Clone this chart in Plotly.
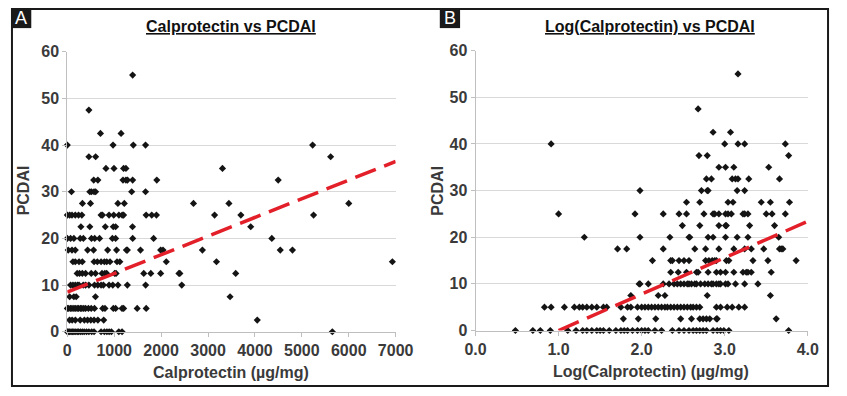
import plotly.graph_objects as go

W, H = 847, 396

# ---------------- Panel A: Calprotectin vs PCDAI ----------------
levels_a = [55, 47.5, 42.5, 40, 37.5, 35, 32.5, 30, 27.5, 25, 22.5, 20, 17.5, 15, 12.5, 10, 7.5, 5, 2.5, 0]
calp_rows = [
    [1393],
    [460],
    [707, 1146],
    [0, 975, 1407, 1668, 5230],
    [460, 604, 5614],
    [824, 995, 1200, 1250, 3308],
    [563, 652, 1187, 1250, 1283, 1393, 1908, 4496],
    [89, 480, 515, 570, 604, 1372, 1668],
    [323, 494, 1078, 1215, 2690, 3445, 6000],
    [0, 50, 100, 170, 240, 310, 720, 750, 890, 990, 1100, 1170, 1200, 1680, 1800, 1900, 3140, 3700, 5250],
    [290, 480, 810, 980, 1030, 1390, 3910],
    [0, 70, 140, 275, 343, 515, 584, 687, 961, 1030, 1394, 1840, 4360],
    [20, 100, 170, 433, 560, 860, 1050, 1260, 1280, 1560, 1990, 2040, 2880, 4540, 4800],
    [120, 170, 250, 320, 570, 640, 720, 790, 840, 910, 1060, 1120, 2110, 3180, 6930],
    [210, 260, 320, 390, 510, 600, 740, 800, 840, 1010, 1040, 1630, 1780, 1990, 2380, 2400, 3590],
    [70, 120, 170, 220, 250, 340, 390, 460, 580, 650, 720, 770, 890, 970, 1080, 1280, 1670, 2440],
    [50, 140, 190, 600, 3470],
    [0, 30, 70, 100, 140, 170, 210, 240, 280, 310, 350, 390, 450, 510, 580, 755, 803, 981, 1030, 1167, 1201, 1490, 1682],
    [48, 103, 172, 275, 364, 432, 501, 570, 652, 776, 4050],
    [0, 20, 50, 80, 110, 140, 170, 210, 240, 280, 320, 360, 410, 460, 520, 570, 720, 790, 844, 892, 940, 1098, 1167, 5650],
]
trend_a_x = [0, 7000]
trend_a_y = [8.5, 36.5]

# ---------------- Panel B: Log(Calprotectin) vs PCDAI ----------------
levels_b = [55, 47.5, 42.5, 40, 37.5, 35, 32.5, 30, 27.5, 25, 22.5, 20, 17.5, 15, 12.5, 10, 7.5, 5, 2.5, 0]
logcalp_rows = [
    [3.16],
    [2.68],
    [2.86, 3.07],
    [0.91, 3.00, 3.16, 3.24, 3.73],
    [2.69, 2.79, 3.77],
    [2.93, 3.01, 3.11, 3.53],
    [2.78, 2.84, 3.09, 3.13, 3.16, 3.29, 3.66],
    [1.98, 2.72, 2.79, 2.80, 3.15, 3.24],
    [2.54, 2.70, 3.04, 3.10, 3.44, 3.55, 3.78],
    [1.00, 1.92, 2.26, 2.45, 2.54, 2.75, 2.86, 2.88, 2.93, 3.01, 3.04, 3.08, 3.22, 3.24, 3.28, 3.50, 3.57, 3.73],
    [2.49, 2.70, 2.93, 3.01, 3.02, 3.30, 3.60],
    [1.31, 1.98, 2.34, 2.57, 2.58, 2.80, 2.86, 3.01, 3.15, 3.28, 3.65],
    [1.71, 1.82, 2.26, 2.64, 2.77, 2.93, 3.11, 3.24, 3.32, 3.47, 3.66, 3.68, 3.70],
    [2.13, 2.35, 2.37, 2.45, 2.51, 2.57, 2.77, 2.81, 2.85, 2.88, 2.90, 3.02, 3.05, 3.34, 3.52, 3.86],
    [2.35, 2.44, 2.54, 2.66, 2.68, 2.80, 2.90, 2.95, 3.01, 3.11, 3.22, 3.26, 3.28, 3.32, 3.56],
    [1.97, 1.98, 2.08, 2.26, 2.33, 2.39, 2.43, 2.47, 2.51, 2.55, 2.57, 2.60, 2.64, 2.66, 2.71, 2.76,
     2.80, 2.84, 2.86, 2.90, 2.93, 2.95, 3.01, 3.04, 3.13, 3.24, 3.40],
    [1.87, 2.20, 2.28, 2.79, 3.55],
    [0.83, 0.91, 1.07, 1.19, 1.25, 1.29, 1.34, 1.40, 1.46, 1.54, 1.58, 1.75, 1.83, 1.87, 1.95, 2.00,
     2.04, 2.08, 2.12, 2.16, 2.20, 2.24, 2.28, 2.31, 2.35, 2.39, 2.43, 2.47, 2.51, 2.55, 2.59, 2.62,
     2.66, 2.70, 2.90, 2.95, 3.03, 3.09, 3.17, 3.24],
    [1.78, 1.96, 2.17, 2.47, 2.60, 2.70, 2.74, 2.78, 2.82, 2.90, 2.91, 3.62],
    [0.48, 0.69, 0.78, 0.90, 1.11, 1.21, 1.29, 1.34, 1.40, 1.46, 1.50, 1.54, 1.61, 1.69, 1.75, 1.79,
     1.83, 1.89, 1.95, 2.00, 2.04, 2.08, 2.16, 2.24, 2.37, 2.45, 2.51, 2.57, 2.62, 2.66, 2.70, 2.74,
     2.78, 2.86, 2.91, 2.95, 2.99, 3.05, 3.77],
]
trend_b_x = [1.0, 4.0]
trend_b_y = [0.0, 23.4]

titles = ["Calprotectin vs PCDAI", "Log(Calprotectin) vs PCDAI"]
xtitles = ["Calprotectin (µg/mg)", "Log(Calprotectin) (µg/mg)"]
ytitle = "PCDAI"
panel_labels = ["A", "B"]


def flatten(levels, rows):
    xs, ys = [], []
    for lv, row in zip(levels, rows):
        for v in row:
            xs.append(v)
            ys.append(lv)
    return xs, ys


ax_x, ax_y = flatten(levels_a, calp_rows)
bx_x, bx_y = flatten(levels_b, logcalp_rows)

FONT = "Liberation Sans, Arial, sans-serif"
TICKC = "#3a3a3a"
GRID = "#d9d9d9"
AXL = "#bfbfbf"
RED = "#e3202a"
DASH = "22px,9px"

fig = go.Figure()
mk = dict(symbol="diamond", size=5.5, color="#141414", line=dict(width=0))
fig.add_trace(go.Scatter(x=ax_x, y=ax_y, mode="markers", marker=mk, xaxis="x", yaxis="y",
                         cliponaxis=False, showlegend=False, hoverinfo="skip"))
fig.add_trace(go.Scatter(x=trend_a_x, y=trend_a_y, mode="lines", xaxis="x", yaxis="y",
                         line=dict(color=RED, width=3.5, dash=DASH), showlegend=False, hoverinfo="skip"))
fig.add_trace(go.Scatter(x=bx_x, y=bx_y, mode="markers", marker=mk, xaxis="x2", yaxis="y2",
                         cliponaxis=False, showlegend=False, hoverinfo="skip"))
fig.add_trace(go.Scatter(x=trend_b_x, y=trend_b_y, mode="lines", xaxis="x2", yaxis="y2",
                         line=dict(color=RED, width=3.5, dash=DASH), showlegend=False, hoverinfo="skip"))

tickfont = dict(family=FONT, size=16, color=TICKC, weight="bold")
common_x = dict(showgrid=False, zeroline=False, showline=True, linecolor=AXL, linewidth=1,
                ticks="outside", ticklen=4, tickcolor=AXL, tickfont=tickfont)
common_y = dict(showgrid=True, gridcolor=GRID, gridwidth=1, zeroline=False, showline=True,
                linecolor=AXL, linewidth=1, ticks="outside", ticklen=4, tickcolor=AXL,
                tickfont=tickfont, range=[0, 60], dtick=10)

fig.update_layout(
    autosize=True,
    margin=dict(l=0, r=0, t=0, b=0),
    paper_bgcolor="white", plot_bgcolor="white",
    hovermode=False,
    xaxis=dict(domain=[58.3 / W, 398.3 / W], range=[0, 7000], dtick=1000, anchor="y", **common_x),
    yaxis=dict(domain=[1 - 338.3 / H, 1 - 45.7 / H], anchor="x", **common_y),
    xaxis2=dict(domain=[481 / W, 825 / W], range=[0, 4], dtick=1, tickformat=".1f", anchor="y2", **common_x),
    yaxis2=dict(domain=[1 - 337 / H, 1 - 44.5 / H], anchor="x2", **common_y),
)

ann = []
shapes = []
# titles
for cx, t in zip([228, 662], titles):
    ann.append(dict(x=cx / W, y=1 - 19 / H, xref="paper", yref="paper", text=t, showarrow=False,
                    xanchor="center", yanchor="middle",
                    font=dict(family=FONT, size=16, color="#111111", weight="bold", lineposition="under")))
# x titles
for cx, cy, t in zip([228, 663], [381, 380], xtitles):
    ann.append(dict(x=cx / W, y=1 - cy / H, xref="paper", yref="paper", text=t, showarrow=False,
                    xanchor="center", yanchor="middle",
                    font=dict(family=FONT, size=16, color=TICKC, weight="bold")))
# y titles
for cx in [13, 442]:
    ann.append(dict(x=cx / W, y=1 - 191 / H, xref="paper", yref="paper", text=ytitle, showarrow=False,
                    xanchor="center", yanchor="middle", textangle=-90,
                    font=dict(family=FONT, size=16, color=TICKC, weight="bold")))
# panel labels
for (x0, x1), lab in zip([(0, 21), (444, 465)], panel_labels):
    shapes.append(dict(type="rect", xref="paper", yref="paper", x0=x0 / W, x1=x1 / W,
                       y0=1 - 21 / H, y1=1, fillcolor="#1a1a1a", line=dict(width=0)))
    ann.append(dict(x=(x0 + x1) / 2 / W, y=1 - 10.5 / H, xref="paper", yref="paper", text=lab,
                    showarrow=False, xanchor="center", yanchor="middle",
                    font=dict(family=FONT, size=18, color="white")))
# outer border
shapes.append(dict(type="rect", xref="paper", yref="paper", x0=1 / W, x1=1 - 1 / W,
                   y0=1 / H, y1=1 - 1 / H, line=dict(color="#1a1a1a", width=2)))

fig.update_layout(annotations=ann, shapes=shapes)
fig.write_html("out.html", default_width="100vw", default_height="100vh",
               config={"displayModeBar": False, "responsive": True},
               post_script="document.body.style.margin='0';document.body.style.overflow='hidden';"
                           "window.dispatchEvent(new Event('resize'));")
